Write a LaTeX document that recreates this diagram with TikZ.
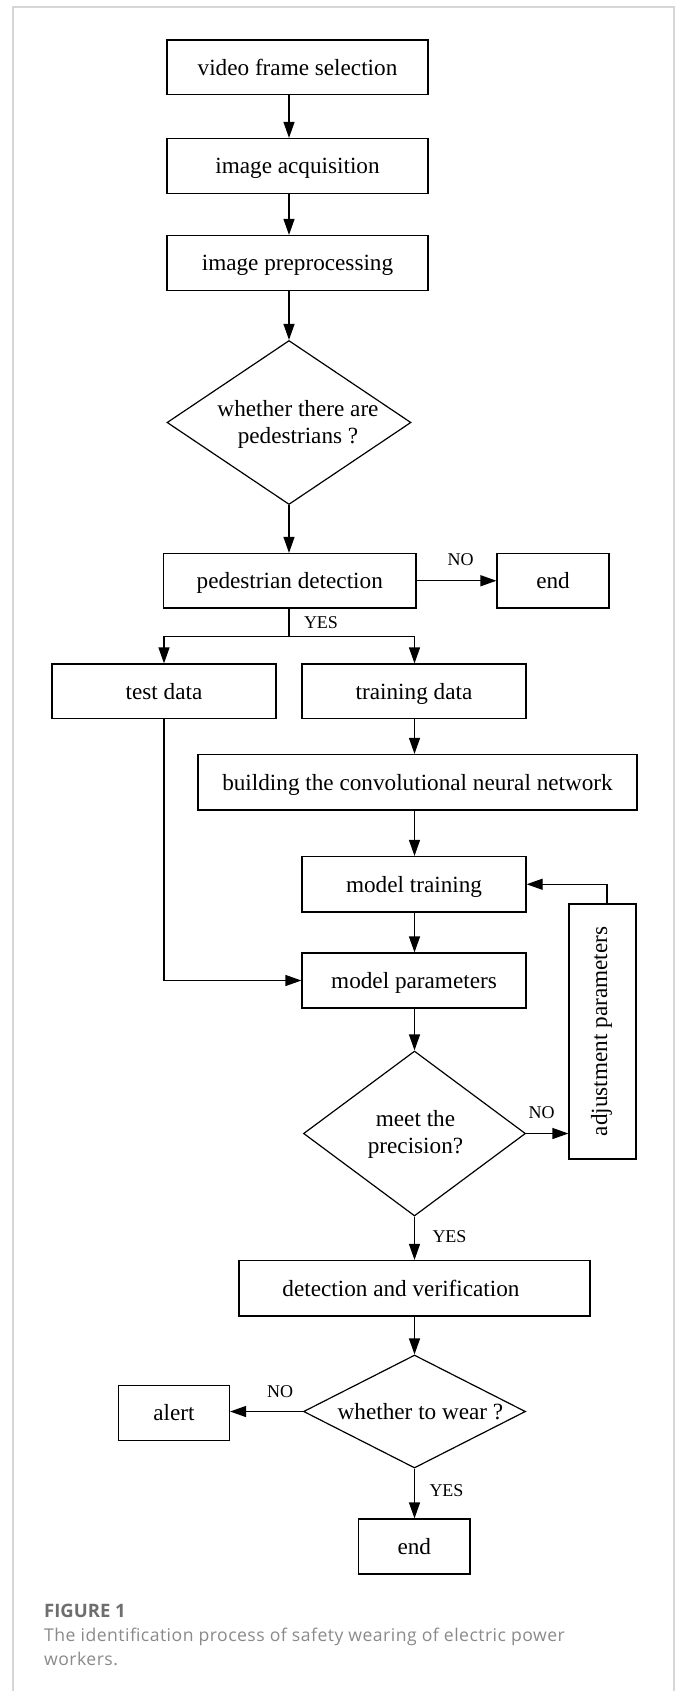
\documentclass[tikz,border=0pt]{standalone}
\usepackage{fontspec}
\setmainfont{Liberation Serif}
\newfontfamily\capfont{Open Sans}
\newfontfamily\capbodyfont[LetterSpace=2.7]{Open Sans}
\usetikzlibrary{arrows.meta,shapes.geometric}
\definecolor{framegray}{HTML}{D6D6D6}
\definecolor{capdark}{HTML}{6E6E6E}
\definecolor{caplight}{HTML}{8A8A8A}
\begin{document}
\begin{tikzpicture}[x=1pt,y=-1pt,
  box/.style={draw, line width=1.2pt, inner sep=0pt, align=center,
    text height=15.8pt, text depth=0pt,
    font=\fontsize{23.2}{27}\selectfont},
  dia/.style={draw, line width=1.2pt, diamond, inner sep=0pt, shape aspect=1.5},
  txt/.style={inner sep=0pt, align=center, font=\fontsize{23.2}{27}\selectfont},
  lbl/.style={inner sep=0pt, font=\fontsize{18}{20}\selectfont},
  arr/.style={line width=1.2pt, -{Triangle[length=16pt,width=11pt]}},
  ln/.style={line width=1.2pt},
  frame/.style={draw=framegray, line width=1.6pt}]
\useasboundingbox (0,0) rectangle (680,1691);
\fill[white] (0,0) rectangle (680,1691);
\draw[frame] (13,1691) -- (13,7) -- (674,7) -- (674,1691);

\coordinate (x1) at (289,0);
\coordinate (x2) at (414.5,0);
\coordinate (fbx) at (607,0);

% nodes
\node[box, minimum width=261pt, minimum height=54.5pt] (b1) at (297.5,67.25) {video frame selection};
\node[box, minimum width=261pt, minimum height=55pt] (b2) at (297.5,166) {image acquisition};
\node[box, minimum width=261pt, minimum height=55pt] (b3) at (297.5,263) {image preprocessing};
\node[dia, minimum width=244pt, minimum height=164pt] (d1) at (289,422.5) {};
\node[txt] (d1t) at (298,424) {whether there are\\pedestrians ?};
\node[box, minimum width=252.5pt, minimum height=54.5pt] (pd) at (289.75,580.75) {pedestrian detection};
\node[box, minimum width=112pt, minimum height=54.5pt] (end1) at (553,580.75) {end};
\node[box, minimum width=224pt, minimum height=54.5pt] (test) at (164,691.25) {test data};
\node[box, minimum width=224pt, minimum height=54.5pt] (train) at (414,691.25) {training data};
\node[box, minimum width=439pt, minimum height=55.5pt] (build) at (417.5,782.25) {building the convolutional neural network};
\node[box, minimum width=224pt, minimum height=55.5pt] (mtrain) at (414,884.25) {model training};
\node[box, minimum width=224pt, minimum height=55pt] (mparam) at (414,980.5) {model parameters};
\node[box, minimum width=67pt, minimum height=255pt, text height=0pt] (adj) at (602.5,1031.5) {};
\node[txt, rotate=90] (adjt) at (601.5,1031.5) {adjustment parameters};
\node[dia, minimum width=222pt, minimum height=165pt] (d2) at (414.5,1133.5) {};
\node[txt] (d2t) at (415.5,1134.5) {meet the\\precision?};
\node[box, minimum width=351pt, minimum height=55.5pt, text height=0pt] (dv) at (414.5,1288.25) {};
\node[txt] (dvt) at (401,1288.25) {detection and verification};
\node[dia, minimum width=222pt, minimum height=113pt, shape aspect=2] (d3) at (414.5,1411.5) {};
\node[txt] (d3t) at (420.5,1411.5) {whether to wear ?};
\node[box, minimum width=111pt, minimum height=55pt] (alert) at (174,1413) {alert};
\node[box, minimum width=111.5pt, minimum height=55pt] (end2) at (414.25,1546.5) {end};

% connectors
\draw[arr] (b1.south -| x1) -- (b2.north -| x1);
\draw[arr] (b2.south -| x1) -- (b3.north -| x1);
\draw[arr] (b3.south -| x1) -- (d1.north);
\draw[arr] (d1.south) -- (pd.north -| x1);
\draw[arr] (pd.east) -- (end1.west);
\coordinate (split) at (289,636.4);
\draw[ln] (pd.south -| x1) -- (split);
\draw[arr] (split) -| (test.north);
\draw[arr] (split) -| (train.north -| x2);
\draw[arr] (train.south -| x2) -- (build.north -| x2);
\draw[arr] (build.south -| x2) -- (mtrain.north -| x2);
\draw[arr] (mtrain.south -| x2) -- (mparam.north -| x2);
\draw[arr] (test.south) |- (mparam.west);
\draw[arr] (mparam.south -| x2) -- (d2.north);
\draw[arr] (d2.east) -- (adj.west |- d2.east);
\draw[arr] (adj.north -| fbx) |- (mtrain.east);
\draw[arr] (d2.south) -- (dv.north -| x2);
\draw[arr] (dv.south -| x2) -- (d3.north);
\draw[arr] (d3.west) -- (alert.east |- d3.west);
\draw[arr] (d3.south) -- (end2.north -| x2);

% labels
\node[lbl] (no1) at (460.5,559.5) {NO};
\node[lbl] (yes1) at (321,622.5) {YES};
\node[lbl] (no2) at (541.5,1112.5) {NO};
\node[lbl] (yes2) at (449.5,1236.5) {YES};
\node[lbl] (no3) at (280,1391.5) {NO};
\node[lbl] (yes3) at (446.5,1490.5) {YES};

% caption
\node[anchor=base west, inner sep=0pt, text=capdark, font=\capfont\bfseries\fontsize{18.5}{22}\selectfont] (fig) at (44,1617) {FIGURE 1};
\node[anchor=base west, inner sep=0pt, text=caplight, font=\capbodyfont\fontsize{17.6}{23.5}\selectfont] (cap1) at (44,1641.5) {The identification process of safety wearing of electric power};
\node[anchor=base west, inner sep=0pt, text=caplight, font=\capbodyfont\fontsize{17.6}{23.5}\selectfont] (cap2) at (44,1665) {workers.};
\end{tikzpicture}
\end{document}
